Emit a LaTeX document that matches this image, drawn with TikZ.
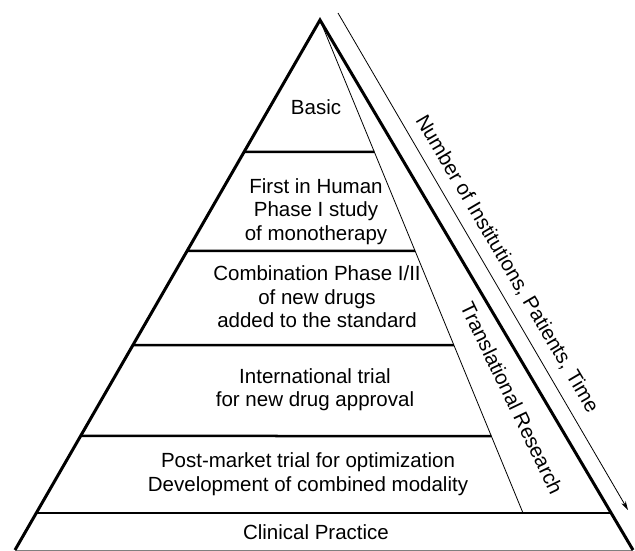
\documentclass[tikz,border=0pt]{standalone}
\usepackage{fontspec}
\setmainfont{Liberation Sans}
\usetikzlibrary{calc,arrows.meta}
\begin{document}
\begin{tikzpicture}[x=1pt,y=-1pt,
  edge/.style={line width=3pt, line join=miter},
  tier/.style={line width=2.5pt},
  fine/.style={line width=0.8pt},
  lbl/.style={font=\fontsize{20.5}{23.5}\selectfont, align=center, inner sep=0pt},
]
\useasboundingbox (0,0) rectangle (635,551);
% outline of the pyramid
\coordinate (apex) at (320,20);
\coordinate (bl) at (15,550);
\coordinate (br) at (633,550);
% foot of the inner (translational) line
\coordinate (tb) at (523,513);

% tier separators, from the left side to the inner line
\foreach \y/\n in {152/1,251/2,345/3,436/4}{
  \coordinate (L\n) at ($(apex)!{(\y-20)/530}!(bl)$);
  \coordinate (R\n) at ($(apex)!{(\y-20)/493}!(tb)$);
  \draw[tier] (L\n) -- (R\n);
}
% full-width separator above the base tier
\coordinate (L5) at ($(apex)!{493/530}!(bl)$);
\coordinate (R5) at ($(apex)!{493/530}!(br)$);
\draw[tier] (L5) -- (R5);

% base line
\draw[gray, line width=0.9pt] (bl) -- (br);
% inner line
\draw[fine] (apex) -- (tb);
% sides
\draw[edge] (bl) -- (apex) -- (br);

% outer arrow
\coordinate (a0) at (338,13);
\coordinate (a1) at (628,510);
\draw[fine, -{Stealth[length=9pt,width=5pt]}] (a0) -- (a1);

% tier labels
\node[lbl] (basic) at (316,107) {Basic};
\node[lbl] (fih) at (316,211.5) {First in Human\\Phase I study\\of monotherapy};
\node[lbl] (comb) at (317,297) {Combination Phase I/II\\of new drugs\\added to the standard};
\node[lbl] (intl) at (315,389.5) {International trial\\for new drug approval};
\node[lbl] (post) at (308,474) {Post-market trial for optimization\\Development of combined modality};
\node[lbl] (clin) at (316,532) {Clinical Practice};

% slanted labels
\node[lbl, rotate=-64.3] (trans) at (512,398) {Translational Research};
\node[lbl, rotate=-59.5] (num) at (507,264) {Number of Institutions, Patients, Time};
\end{tikzpicture}
\end{document}
